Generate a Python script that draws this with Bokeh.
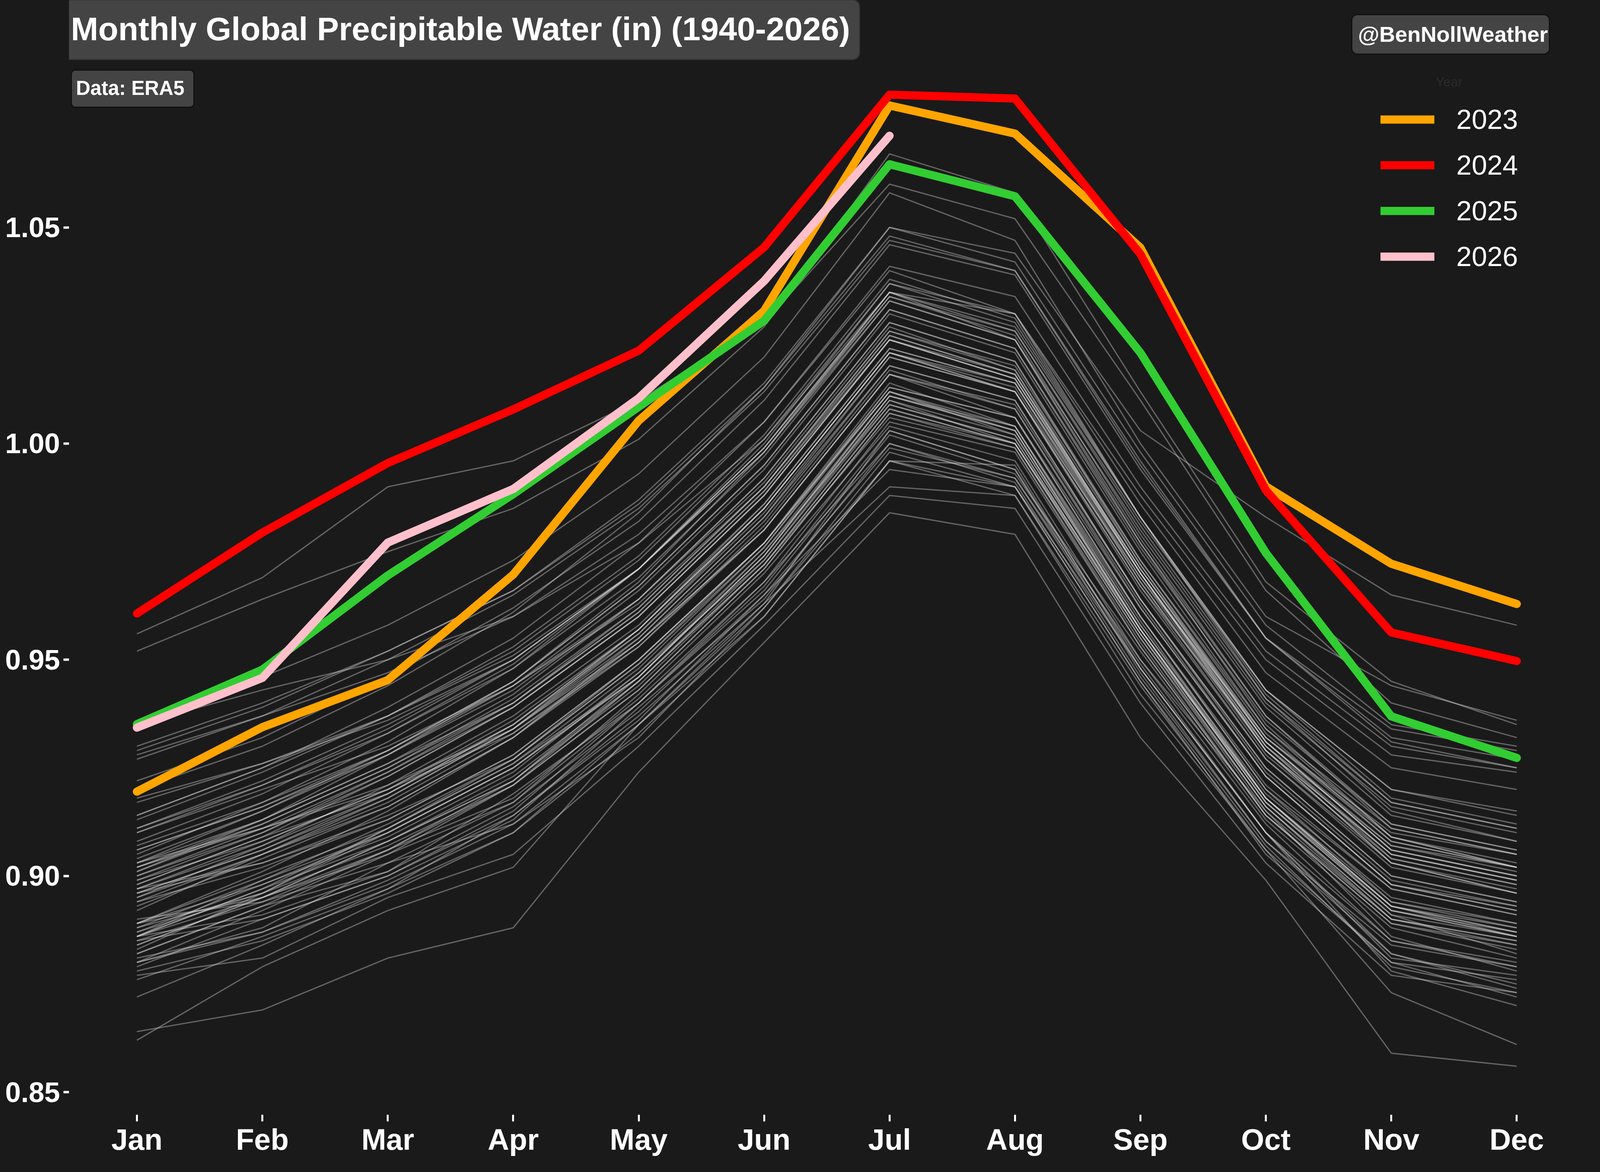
from bokeh.plotting import figure
from bokeh.models import Range1d, FixedTicker, Legend, LegendItem, Quad
from bokeh.embed import file_html
from bokeh.resources import INLINE
from bokeh.core.properties import value

# ---------------- data ----------------
months = ["Jan", "Feb", "Mar", "Apr", "May", "Jun", "Jul", "Aug", "Sep", "Oct", "Nov", "Dec"]
ytick_values = [0.85, 0.90, 0.95, 1.00, 1.05]
ytick_labels = ["0.85", "0.90", "0.95", "1.00", "1.05"]

highlight_years = [2023, 2024, 2025, 2026]
pw_2023 = [0.9195, 0.9344, 0.9453, 0.9697, 1.0053, 1.0307, 1.0782, 1.0717, 1.0453, 0.9901, 0.9722, 0.9629]
pw_2024 = [0.9607, 0.9794, 0.9955, 1.0079, 1.0215, 1.0454, 1.0807, 1.0798, 1.0438, 0.9892, 0.9563, 0.9497]
pw_2025 = [0.9351, 0.9477, 0.9695, 0.9883, 1.0085, 1.0284, 1.0646, 1.0572, 1.0210, 0.9747, 0.9369, 0.9273]
pw_2026 = [0.9343, 0.9458, 0.9771, 0.9895, 1.0105, 1.0376, 1.0712]
highlight_colors = ["#FFA500", "#FF0000", "#32CD32", "#FFC0CB"]

# 1940-2022, one row per year (Jan..Dec), by decade
pw_1940s = [
    [0.864, 0.869, 0.881, 0.888, 0.924, 0.954, 0.984, 0.979, 0.932, 0.899, 0.859, 0.856],
    [0.862, 0.879, 0.892, 0.902, 0.935, 0.963, 0.990, 0.988, 0.942, 0.906, 0.873, 0.861],
    [0.872, 0.884, 0.897, 0.910, 0.935, 0.960, 0.996, 0.990, 0.948, 0.910, 0.878, 0.870],
    [0.877, 0.881, 0.895, 0.905, 0.930, 0.958, 0.988, 0.985, 0.940, 0.903, 0.877, 0.873],
    [0.885, 0.890, 0.900, 0.915, 0.940, 0.968, 1.000, 0.992, 0.950, 0.912, 0.885, 0.880],
    [0.880, 0.888, 0.903, 0.912, 0.932, 0.962, 0.996, 0.995, 0.948, 0.910, 0.882, 0.875],
    [0.876, 0.886, 0.897, 0.914, 0.936, 0.965, 0.994, 0.990, 0.945, 0.905, 0.880, 0.872],
    [0.882, 0.893, 0.901, 0.919, 0.940, 0.966, 1.002, 0.993, 0.952, 0.913, 0.888, 0.881],
    [0.884, 0.895, 0.905, 0.917, 0.942, 0.970, 1.004, 0.996, 0.950, 0.915, 0.886, 0.878],
    [0.880, 0.887, 0.899, 0.913, 0.939, 0.964, 1.000, 0.991, 0.946, 0.908, 0.884, 0.879],
]
pw_1950s = [
    [0.878, 0.885, 0.896, 0.910, 0.933, 0.960, 0.996, 0.988, 0.944, 0.906, 0.880, 0.876],
    [0.880, 0.892, 0.905, 0.921, 0.945, 0.972, 1.008, 1.000, 0.957, 0.918, 0.893, 0.886],
    [0.889, 0.895, 0.906, 0.918, 0.941, 0.968, 1.005, 0.998, 0.953, 0.914, 0.889, 0.884],
    [0.888, 0.899, 0.910, 0.925, 0.946, 0.974, 1.010, 1.000, 0.955, 0.916, 0.891, 0.882],
    [0.886, 0.891, 0.901, 0.916, 0.938, 0.965, 0.999, 0.992, 0.948, 0.910, 0.881, 0.877],
    [0.879, 0.890, 0.900, 0.914, 0.937, 0.963, 1.003, 0.994, 0.947, 0.908, 0.882, 0.874],
    [0.881, 0.887, 0.898, 0.912, 0.935, 0.962, 0.998, 0.990, 0.945, 0.907, 0.879, 0.873],
    [0.883, 0.896, 0.911, 0.926, 0.948, 0.976, 1.012, 1.004, 0.960, 0.921, 0.897, 0.891],
    [0.897, 0.903, 0.914, 0.927, 0.950, 0.977, 1.012, 1.002, 0.957, 0.918, 0.892, 0.886],
    [0.886, 0.897, 0.908, 0.922, 0.944, 0.972, 1.006, 0.999, 0.953, 0.914, 0.890, 0.884],
]
pw_1960s = [
    [0.887, 0.898, 0.909, 0.924, 0.947, 0.973, 1.009, 1.001, 0.956, 0.916, 0.890, 0.885],
    [0.889, 0.900, 0.911, 0.926, 0.946, 0.975, 1.011, 1.003, 0.957, 0.917, 0.893, 0.887],
    [0.888, 0.896, 0.907, 0.921, 0.943, 0.971, 1.007, 0.999, 0.954, 0.914, 0.889, 0.883],
    [0.886, 0.899, 0.912, 0.927, 0.949, 0.976, 1.013, 1.006, 0.960, 0.920, 0.897, 0.891],
    [0.890, 0.894, 0.903, 0.917, 0.940, 0.967, 1.003, 0.994, 0.949, 0.910, 0.885, 0.879],
    [0.882, 0.893, 0.906, 0.922, 0.946, 0.974, 1.011, 1.004, 0.958, 0.919, 0.895, 0.889],
    [0.894, 0.902, 0.913, 0.928, 0.950, 0.977, 1.014, 1.004, 0.959, 0.918, 0.893, 0.888],
    [0.887, 0.896, 0.910, 0.925, 0.947, 0.975, 1.009, 1.001, 0.956, 0.916, 0.891, 0.886],
    [0.884, 0.895, 0.908, 0.923, 0.945, 0.972, 1.008, 1.000, 0.956, 0.918, 0.894, 0.889],
    [0.892, 0.905, 0.916, 0.932, 0.954, 0.980, 1.016, 1.009, 0.964, 0.925, 0.900, 0.894],
]
pw_1970s = [
    [0.896, 0.903, 0.913, 0.928, 0.950, 0.977, 1.012, 1.003, 0.957, 0.917, 0.892, 0.886],
    [0.885, 0.894, 0.906, 0.921, 0.943, 0.971, 1.007, 1.000, 0.955, 0.915, 0.890, 0.885],
    [0.889, 0.901, 0.915, 0.932, 0.955, 0.983, 1.020, 1.012, 0.967, 0.930, 0.907, 0.902],
    [0.903, 0.911, 0.921, 0.934, 0.954, 0.980, 1.016, 1.006, 0.960, 0.920, 0.894, 0.888],
    [0.886, 0.895, 0.908, 0.922, 0.945, 0.973, 1.010, 1.002, 0.957, 0.917, 0.892, 0.887],
    [0.889, 0.898, 0.910, 0.925, 0.946, 0.974, 1.011, 1.003, 0.958, 0.918, 0.893, 0.887],
    [0.886, 0.897, 0.911, 0.927, 0.949, 0.977, 1.013, 1.006, 0.962, 0.923, 0.898, 0.893],
    [0.897, 0.908, 0.920, 0.935, 0.957, 0.985, 1.021, 1.012, 0.967, 0.927, 0.902, 0.896],
    [0.898, 0.909, 0.919, 0.934, 0.955, 0.983, 1.018, 1.010, 0.964, 0.925, 0.900, 0.894],
    [0.895, 0.907, 0.921, 0.937, 0.958, 0.986, 1.022, 1.014, 0.969, 0.929, 0.905, 0.899],
]
pw_1980s = [
    [0.900, 0.911, 0.924, 0.939, 0.960, 0.988, 1.024, 1.015, 0.970, 0.930, 0.904, 0.898],
    [0.899, 0.908, 0.920, 0.936, 0.957, 0.985, 1.021, 1.012, 0.966, 0.927, 0.903, 0.897],
    [0.896, 0.906, 0.918, 0.934, 0.956, 0.984, 1.020, 1.012, 0.969, 0.932, 0.910, 0.905],
    [0.910, 0.920, 0.930, 0.944, 0.963, 0.990, 1.025, 1.016, 0.970, 0.929, 0.903, 0.896],
    [0.895, 0.905, 0.917, 0.933, 0.954, 0.982, 1.018, 1.010, 0.964, 0.924, 0.899, 0.893],
    [0.893, 0.904, 0.916, 0.932, 0.953, 0.981, 1.017, 1.008, 0.963, 0.923, 0.898, 0.892],
    [0.896, 0.906, 0.919, 0.935, 0.956, 0.985, 1.021, 1.014, 0.970, 0.931, 0.907, 0.901],
    [0.904, 0.915, 0.928, 0.944, 0.966, 0.994, 1.030, 1.021, 0.975, 0.934, 0.909, 0.902],
    [0.906, 0.916, 0.928, 0.943, 0.964, 0.991, 1.027, 1.017, 0.970, 0.929, 0.903, 0.896],
    [0.894, 0.905, 0.918, 0.934, 0.957, 0.986, 1.022, 1.014, 0.968, 0.929, 0.905, 0.899],
]
pw_1990s = [
    [0.901, 0.912, 0.925, 0.941, 0.962, 0.990, 1.026, 1.017, 0.972, 0.932, 0.908, 0.902],
    [0.903, 0.913, 0.926, 0.940, 0.961, 0.989, 1.024, 1.015, 0.971, 0.932, 0.909, 0.903],
    [0.902, 0.911, 0.920, 0.933, 0.953, 0.980, 1.016, 1.008, 0.962, 0.923, 0.898, 0.892],
    [0.897, 0.907, 0.919, 0.935, 0.957, 0.985, 1.021, 1.013, 0.968, 0.928, 0.904, 0.898],
    [0.899, 0.910, 0.924, 0.940, 0.962, 0.990, 1.026, 1.018, 0.973, 0.934, 0.911, 0.905],
    [0.907, 0.917, 0.929, 0.944, 0.964, 0.992, 1.028, 1.019, 0.972, 0.931, 0.906, 0.900],
    [0.898, 0.909, 0.923, 0.939, 0.960, 0.988, 1.024, 1.016, 0.971, 0.931, 0.906, 0.900],
    [0.901, 0.913, 0.928, 0.945, 0.968, 0.998, 1.035, 1.030, 0.988, 0.950, 0.928, 0.924],
    [0.935, 0.943, 0.950, 0.960, 0.977, 1.001, 1.035, 1.024, 0.977, 0.935, 0.909, 0.902],
    [0.902, 0.912, 0.925, 0.940, 0.961, 0.989, 1.025, 1.016, 0.971, 0.931, 0.906, 0.900],
]
pw_2000s = [
    [0.900, 0.910, 0.923, 0.939, 0.960, 0.988, 1.024, 1.015, 0.970, 0.930, 0.905, 0.899],
    [0.903, 0.915, 0.929, 0.945, 0.967, 0.995, 1.031, 1.022, 0.976, 0.936, 0.912, 0.906],
    [0.910, 0.921, 0.934, 0.950, 0.971, 0.999, 1.034, 1.026, 0.982, 0.943, 0.920, 0.914],
    [0.918, 0.926, 0.936, 0.950, 0.971, 0.998, 1.034, 1.025, 0.979, 0.939, 0.914, 0.908],
    [0.911, 0.921, 0.933, 0.948, 0.969, 0.997, 1.033, 1.024, 0.980, 0.940, 0.916, 0.910],
    [0.913, 0.924, 0.937, 0.953, 0.974, 1.002, 1.038, 1.029, 0.983, 0.942, 0.917, 0.911],
    [0.911, 0.922, 0.935, 0.950, 0.971, 0.999, 1.035, 1.027, 0.983, 0.943, 0.920, 0.915],
    [0.917, 0.926, 0.937, 0.951, 0.971, 0.998, 1.033, 1.024, 0.978, 0.937, 0.911, 0.905],
    [0.902, 0.913, 0.926, 0.942, 0.964, 0.992, 1.028, 1.019, 0.973, 0.933, 0.908, 0.902],
    [0.905, 0.917, 0.931, 0.948, 0.971, 1.000, 1.037, 1.030, 0.986, 0.947, 0.925, 0.920],
]
pw_2010s = [
    [0.928, 0.937, 0.947, 0.960, 0.979, 1.005, 1.040, 1.030, 0.983, 0.941, 0.915, 0.908],
    [0.906, 0.916, 0.929, 0.945, 0.967, 0.995, 1.031, 1.022, 0.977, 0.937, 0.912, 0.906],
    [0.908, 0.919, 0.933, 0.949, 0.971, 0.999, 1.035, 1.026, 0.981, 0.941, 0.917, 0.911],
    [0.914, 0.925, 0.937, 0.952, 0.973, 1.001, 1.037, 1.028, 0.983, 0.943, 0.918, 0.912],
    [0.914, 0.925, 0.939, 0.955, 0.977, 1.005, 1.041, 1.034, 0.990, 0.952, 0.930, 0.925],
    [0.920, 0.930, 0.944, 0.961, 0.984, 1.013, 1.050, 1.044, 1.003, 0.983, 0.965, 0.958],
    [0.956, 0.969, 0.990, 0.996, 1.010, 1.028, 1.060, 1.052, 1.010, 0.966, 0.940, 0.932],
    [0.930, 0.940, 0.952, 0.966, 0.986, 1.013, 1.048, 1.040, 0.996, 0.955, 0.931, 0.925],
    [0.922, 0.932, 0.946, 0.962, 0.982, 1.010, 1.046, 1.039, 0.994, 0.955, 0.934, 0.929],
    [0.935, 0.946, 0.958, 0.973, 0.993, 1.020, 1.058, 1.047, 1.000, 0.960, 0.944, 0.936],
]
pw_2020s = [
    [0.952, 0.964, 0.975, 0.985, 1.001, 1.027, 1.067, 1.058, 1.012, 0.968, 0.945, 0.935],
    [0.927, 0.937, 0.950, 0.965, 0.985, 1.012, 1.047, 1.040, 0.995, 0.955, 0.932, 0.927],
    [0.929, 0.939, 0.952, 0.966, 0.987, 1.014, 1.050, 1.042, 0.998, 0.958, 0.935, 0.930],
]
past_decades = [pw_1940s, pw_1950s, pw_1960s, pw_1970s, pw_1980s, pw_1990s, pw_2000s, pw_2010s, pw_2020s]

title_text = "Monthly Global Precipitable Water (in) (1940-2026)"
source_text = "Data: ERA5"
credit_text = "@BenNollWeather"
legend_title = "Year"

# ---------------- layout (the visible window is 4096 px wide) ----------------
BG = "#1a1a1a"
W, H = 4080, 2984
FL, FR, FT, FB = 176, 4080, 0, 2853          # frame edges in figure pixels
X0, X1 = -0.5418, 11.6153
Y0, Y1 = 0.84476, 1.10255
FONT = "Liberation Sans"


def sx(px):
    return X0 + (px - FL) * (X1 - X0) / (FR - FL)


def sy(py):
    return Y1 - (py - FT) * (Y1 - Y0) / (FB - FT)


p = figure(width=W, height=H, output_backend="svg", toolbar_location=None,
           x_range=Range1d(X0, X1), y_range=Range1d(Y0, Y1),
           min_border_left=FL, min_border_right=W - FR,
           min_border_top=FT, min_border_bottom=H - FB,
           background_fill_color=BG, border_fill_color=BG,
           outline_line_color=None)
p.xgrid.visible = False
p.ygrid.visible = False

month_idx = list(range(len(months)))

# grey lines for the past years
for decade in past_decades:
    for row in decade:
        p.line(x=month_idx[:len(row)], y=row, line_color="#dcdcdc",
               line_alpha=0.38, line_width=3.3)

# highlighted years
series = [pw_2023, pw_2024, pw_2025, pw_2026]
legend_items = []
for yr, vals, col in zip(highlight_years, series, highlight_colors):
    r = p.line(x=month_idx[:len(vals)], y=vals, line_color=col, line_width=21,
               line_cap="round", line_join="round")
    legend_items.append(LegendItem(label=str(yr), renderers=[r]))

# legend title is a blank spacer; the faint "Year" is drawn centred below
legend = Legend(items=legend_items, location="top_right",
                title=" ", title_text_color=BG,
                title_text_font=FONT, title_text_font_size="36px",
                title_standoff=11,
                glyph_width=138, glyph_height=117, label_height=117, spacing=0,
                padding=0, margin=194, label_standoff=56,
                label_text_font=FONT, label_text_font_size="71px",
                label_text_color="white",
                background_fill_alpha=0, border_line_alpha=0)
p.add_layout(legend)

# axes
for ax in (p.xaxis[0], p.yaxis[0]):
    ax.axis_line_color = None
    ax.major_tick_line_color = "white"
    ax.minor_tick_line_color = None
    ax.major_tick_in = 0
    ax.major_label_text_color = "white"
    ax.major_label_text_font = FONT
    ax.major_label_text_font_style = "bold"

p.xaxis.ticker = FixedTicker(ticks=month_idx)
p.xaxis.major_label_overrides = {i: m for i, m in zip(month_idx, months)}
p.xaxis.major_label_text_font_size = "76px"
p.xaxis.major_label_standoff = 3
p.xaxis.major_tick_out = 17
p.xaxis.major_tick_line_width = 5
p.yaxis.ticker = FixedTicker(ticks=ytick_values)
p.yaxis.major_label_overrides = {v: s for v, s in zip(ytick_values, ytick_labels)}
p.yaxis.major_label_text_font_size = "72px"
p.yaxis.major_label_standoff = 9
p.yaxis.major_tick_out = 14
p.yaxis.major_tick_line_width = 6

# annotation boxes (figure-pixel boxes converted to data units)
rounded = "border_radius" in Quad.properties()
boxes = [  # left, right, top, bottom, fill, edge, corner radius
    (154, 2200, -1, 152, "#444444", "#333333", 18),
    (182, 496, 179, 274, "#444444", "#111111", 10),
    (3460, 3966, 37, 138, "#444444", "#111111", 14),
]
for l, r_, t, b, fc, ec, rad in boxes:
    kw = dict(left=[sx(l)], right=[sx(r_)], top=[sy(t)], bottom=[sy(b)],
              fill_color=fc, line_color=ec, line_width=3)
    if rounded:
        kw["border_radius"] = rad
    p.quad(**kw)

# NB: sizes such as "100px" break the SVG font parser when bold
texts = [  # text, x, y, size, style, color, align
    (title_text, 181, 73, "84px", "bold", "white", "left"),
    (source_text, 194, 225, "51px", "bold", "white", "left"),
    (credit_text, 3476, 87, "56px", "bold", "white", "left"),
    (legend_title, 3709, 208, "34px", "normal", "#2a2a2a", "center"),
]
for t, x, y, size, style, color, align in texts:
    p.text(x=[sx(x)], y=[sy(y)], text=[t], text_font=value(FONT),
           text_font_size=value(size), text_font_style=style, text_color=color,
           text_align=align, text_baseline="alphabetic")

html = file_html(p, INLINE)
html = html.replace("<head>", "<head><style>html, body { background: #1a1a1a; }</style>", 1)
open("out.html", "w").write(html)
